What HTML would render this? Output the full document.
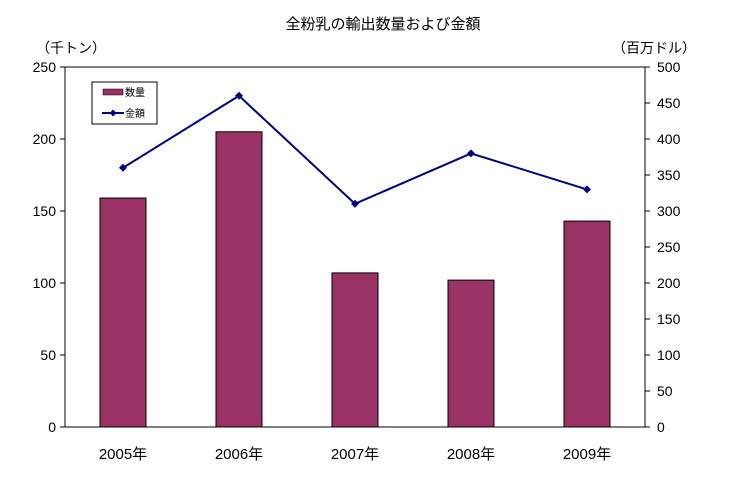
<!DOCTYPE html>
<html><head><meta charset="utf-8"><style>
body{margin:0;background:#fff;width:732px;height:481px;overflow:hidden}
text{font-family:"Liberation Sans","Noto Sans CJK JP",sans-serif;fill:#000}
</style></head><body>
<svg id="chart" width="732" height="481">
<text x="383" y="29" font-size="15" text-anchor="middle">全粉乳の輸出数量および金額</text>
<text x="36" y="53" font-size="14">（千トン）</text>
<text x="612" y="53" font-size="14">（百万ドル）</text>
<rect x="65" y="67" width="580" height="360" fill="none" stroke="#000"/>
<g id="marks"></g>
<g>
<rect x="92" y="82" width="65" height="42" fill="#fff" stroke="#000"/>
<rect x="103" y="89" width="20" height="6" fill="#993366" stroke="#000" stroke-width="0.5"/>
<text x="125" y="96" font-size="10">数量</text>
<line x1="102" y1="113" x2="124" y2="113" stroke="#000080" stroke-width="2"/>
<path d="M113 109.5L116.5 113L113 116.5L109.5 113Z" fill="#000080"/>
<text x="125" y="117" font-size="10">金額</text>
</g>
</svg>
<script>
const categories=["2005年","2006年","2007年","2008年","2009年"];
const quantity=[159,205,107,102,143];
const amount=[360,460,310,380,330];
const leftTicks=[0,50,100,150,200,250];
const rightTicks=[0,50,100,150,200,250,300,350,400,450,500];
const ns="http://www.w3.org/2000/svg";
const X0=65,X1=645,Y0=427,Y1=67;
const band=(X1-X0)/categories.length;
const xc=i=>X0+band*(i+0.5);
const yL=v=>Y0-(v/250)*(Y0-Y1);
const yR=v=>Y0-(v/500)*(Y0-Y1);
const g=document.getElementById('marks');
function mk(t,a){const e=document.createElementNS(ns,t);for(const k in a)e.setAttribute(k,a[k]);g.appendChild(e);return e;}
leftTicks.forEach(v=>{
 const l=mk('line',{x1:X0-5,x2:X0,y1:yL(v),y2:yL(v),stroke:'#000'});
 
 
 const t=mk('text',{x:X0-9,y:yL(v)+5,'font-size':14,'text-anchor':'end'});t.textContent=v;
 
 
});
rightTicks.forEach(v=>{
 const l=mk('line',{x1:X1,x2:X1+5,y1:yR(v),y2:yR(v),stroke:'#000'});
 
 
 const t=mk('text',{x:X1+12,y:yR(v)+5,'font-size':14});t.textContent=v;
 
 
});
categories.forEach((c,i)=>{
 const t=mk('text',{x:xc(i),y:459,'font-size':15,'text-anchor':'middle'});t.textContent=c;
 
 
 const b=mk('rect',{x:xc(i)-23,y:yL(quantity[i]),width:46,height:Y0-yL(quantity[i]),fill:'#993366',stroke:'#000','stroke-width':1});
 
 
});
const pl=mk('polyline',{points:amount.map((v,i)=>xc(i)+','+yR(v)).join(' '),fill:'none',stroke:'#000080','stroke-width':2});


amount.forEach((v,i)=>{
 const x=xc(i),y=yR(v);
 const p=mk('path',{d:`M${x} ${y-4}L${x+4} ${y}L${x} ${y+4}L${x-4} ${y}Z`,fill:'#000080'});
 
 
});
</script>
</body></html>
